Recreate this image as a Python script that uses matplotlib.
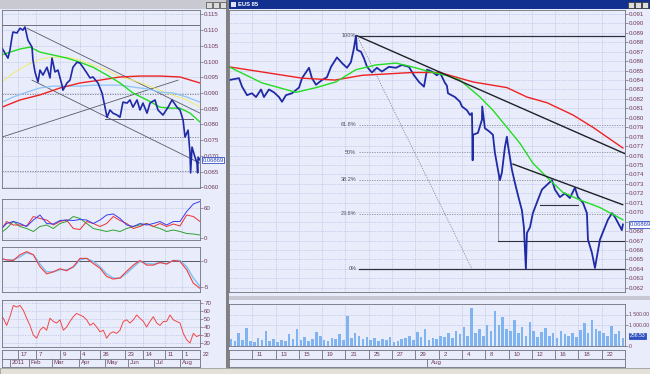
import numpy as np
import matplotlib
matplotlib.use("Agg")
import matplotlib.pyplot as plt
import matplotlib.transforms as mtransforms
from matplotlib.patches import Rectangle
from matplotlib.ticker import FuncFormatter

plt.rcParams['font.family'] = ['Liberation Sans', 'DejaVu Sans']

# ---------------- left window: daily chart (x = trading days from 17 Jan 2011) ----------------
day_idx = [-13.4, -10.9, -8.4, -6.7, -5.0, -4.2, -0.8, 1.7, 4.2, 5.9, 8.4, 11.8, 12.6, 14.3, 16.8,
           18.5, 21.0, 24.4, 26.9, 28.6, 31.1, 33.6, 37.0, 37.8, 41.2, 43.7, 46.2, 49.6, 52.1, 54.6,
           58.0, 60.5, 63.0, 67.2, 70.6, 73.1, 74.8, 77.3, 79.8, 83.2, 85.7, 88.2, 91.6, 94.1, 96.6,
           100.0, 102.5, 105.0, 108.4, 110.9, 115.1, 117.6, 121.8, 126.1, 129.4, 133.6, 136.1, 138.7,
           140.3, 142.9, 144.5, 145.0, 146.2, 148.7, 150.4, 150.9, 151.3, 152.9]
day_close = [0.1043, 0.1027, 0.1011, 0.1037, 0.1078, 0.1094, 0.1091, 0.1106, 0.1100, 0.1110, 0.1068,
             0.1046, 0.1005, 0.0967, 0.0935, 0.0973, 0.0957, 0.0982, 0.0948, 0.1011, 0.0967, 0.0973,
             0.0925, 0.0909, 0.0932, 0.0941, 0.0982, 0.0998, 0.0995, 0.0982, 0.0963, 0.0948, 0.0951,
             0.0932, 0.0900, 0.0855, 0.0823, 0.0846, 0.0836, 0.0830, 0.0823, 0.0871, 0.0868, 0.0878,
             0.0855, 0.0878, 0.0846, 0.0868, 0.0836, 0.0868, 0.0878, 0.0846, 0.0830, 0.0855, 0.0878,
             0.0855, 0.0846, 0.0814, 0.0760, 0.0782, 0.0709, 0.0646, 0.0728, 0.0696, 0.0677, 0.0646,
             0.0696, 0.0687]

ma_green_x = [-13.4, -6.7, 1.7, 10.1, 18.5, 29.4, 41.2, 52.1, 63.0, 74.8, 85.7, 96.6, 108.4, 119.3,
              127.7, 136.1, 144.5, 152.9]
ma_green_y = [0.1021, 0.1030, 0.1040, 0.1046, 0.1030, 0.1021, 0.1011, 0.0998, 0.0982, 0.0957, 0.0932,
              0.0900, 0.0878, 0.0855, 0.0852, 0.0852, 0.0836, 0.0808]
ma_red_x = [-13.4, 1.7, 18.5, 35.3, 52.1, 68.9, 85.7, 102.5, 119.3, 136.1, 152.9]
ma_red_y = [0.0855, 0.0878, 0.0894, 0.0916, 0.0932, 0.0941, 0.0951, 0.0954, 0.0954, 0.0951, 0.0932]
band_x = [-13.4, -4.2, 7.6, 18.5, 29.4, 41.2, 52.1, 63.0, 74.8, 85.7, 96.6, 108.4, 119.3, 130.3, 142.0, 152.9]
band_yellow = [0.0935, 0.0963, 0.0989, 0.1008, 0.1014, 0.1014, 0.1005, 0.0989, 0.0973, 0.0951, 0.0941,
               0.0925, 0.0909, 0.0893, 0.0878, 0.0855]
band_blue = [0.0871, 0.0887, 0.0903, 0.0916, 0.0922, 0.0922, 0.0922, 0.0925, 0.0925, 0.0925, 0.0919,
             0.0913, 0.0903, 0.0900, 0.0887, 0.0871]

# channel / trend lines drawn on the daily chart: (x0, y0, x1, y1)
day_lines = [(7.6, 0.1106, 152.9, 0.0836), (11.8, 0.0941, 152.9, 0.0677), (-13.4, 0.0760, 134.5, 0.0941)]
day_top_line = 0.1116
day_support = (73.1, 147.0, 0.0817)
day_dotted = [0.0897, 0.0760, 0.0652]

# indicators (sampled evenly across the daily axis)
dmi_plus = [16, 29, 33, 29, 23, 36, 46, 29, 28, 35, 36, 35, 37, 36, 29, 36, 46, 48, 39, 26, 23, 29, 26,
            29, 33, 26, 33, 33, 53, 68, 73]
dmi_minus = [13, 33, 26, 26, 24, 43, 39, 36, 26, 33, 36, 19, 17, 33, 29, 23, 29, 43, 35, 29, 19, 23, 29,
             23, 29, 23, 28, 24, 46, 43, 33]
adx = [9, 19, 33, 23, 19, 13, 23, 26, 19, 29, 33, 43, 39, 29, 19, 16, 13, 16, 13, 19, 23, 26, 29, 23, 19,
       13, 16, 13, 9, 8, 6]
macd_line = [0.5, 0.2, 0.1, 1.2, 1.8, 1.2, -1.1, -2.5, -2.1, -1.5, -1.9, -1.1, 0.5, 0.5, -0.5, -1.4, -3.0,
             -3.5, -3.3, -2.0, -0.8, 0.1, -0.8, -0.8, -0.3, -0.6, 0.1, -0.1, -1.7, -4.3, -5.3]
macd_signal = [0.5, 0.2, 0.2, 0.8, 1.6, 1.2, -0.6, -2.1, -2.1, -1.7, -1.7, -1.2, 0.2, 0.5, -0.1, -1.1, -2.5,
               -3.3, -3.3, -2.4, -1.2, -0.1, -0.5, -0.6, -0.3, -0.5, 0.1, 0.1, -1.1, -3.3, -4.9]
rsi = [55, 51, 42, 53, 67, 65, 67, 61, 51, 42, 30, 26, 36, 40, 36, 51, 47, 45, 49, 36, 40, 47, 53, 57, 55,
       53, 49, 42, 45, 40, 34, 36, 26, 32, 34, 32, 36, 47, 49, 45, 49, 55, 51, 47, 40, 47, 53, 45, 42, 47,
       47, 55, 49, 47, 45, 32, 24, 20, 32, 28, 30]

day_ticks = [0, 15, 35.3, 52.1, 68.9, 90, 105, 123.5, 137.8, 152.9]
day_tick_labels = ['17', '7', '9', '4', '26', '23', '14', '11', '1', '22']
month_starts = [-6.7, 9.2, 28.6, 51.3, 73.0, 92.4, 114.3, 136.1]
month_labels = ['2011', 'Feb', 'Mar', 'Apr', 'May', 'Jun', 'Jul', 'Aug']
left_yticks = [0.060, 0.065, 0.070, 0.075, 0.080, 0.085, 0.090, 0.095, 0.100, 0.105, 0.110, 0.115]

# ---------------- right window: hourly chart (x = trading days from 7 Jul 2011) ----------------
hour_day = [0, 0.86, 1.12, 1.55, 1.97, 2.32, 2.75, 3.00, 3.43, 3.86, 4.29, 4.55, 4.89, 5.41, 6.01, 6.27,
            6.87, 7.12, 7.47, 7.98, 8.41, 8.76, 9.27, 9.70, 10.13, 10.47, 10.73, 10.90, 10.99, 11.33,
            11.59, 11.85, 12.27, 12.70, 13.13, 13.73, 14.33, 14.85, 15.45, 15.88, 16.31, 16.74, 17.00,
            17.42, 17.85, 18.11, 18.54, 18.71, 18.80, 19.40, 19.83, 20.00, 20.43, 20.69, 20.86, 20.90,
            20.92, 20.94, 21.37, 21.72, 21.74, 21.97, 22.40, 22.66, 22.83, 23.09, 23.26, 23.43, 23.69,
            23.86, 23.95, 24.29, 24.55, 24.81, 25.15, 25.32, 25.49, 25.58, 25.84, 26.09, 26.52, 26.87,
            27.30, 27.73, 27.98, 28.41, 28.84, 29.27, 29.70, 29.96, 30.39, 30.73, 30.82, 31.16, 31.42,
            31.59, 31.85, 32.27, 32.53, 32.88, 33.13, 33.39, 33.73, 33.82]
hour_close = [0.0840, 0.0842, 0.0833, 0.0824, 0.0826, 0.0822, 0.0830, 0.0822, 0.0830, 0.0827, 0.0822,
              0.0817, 0.0824, 0.0826, 0.0832, 0.0842, 0.0853, 0.0842, 0.0835, 0.0840, 0.0843, 0.0854,
              0.0864, 0.0858, 0.0853, 0.0859, 0.0874, 0.0887, 0.0872, 0.0870, 0.0863, 0.0854, 0.0848,
              0.0853, 0.0849, 0.0854, 0.0853, 0.0856, 0.0854, 0.0845, 0.0838, 0.0833, 0.0851, 0.0849,
              0.0845, 0.0848, 0.0837, 0.0834, 0.0826, 0.0822, 0.0817, 0.0812, 0.0808, 0.0803, 0.0805,
              0.0777, 0.0755, 0.0782, 0.0784, 0.0798, 0.0812, 0.0789, 0.0785, 0.0782, 0.0763, 0.0745,
              0.0734, 0.0742, 0.0769, 0.0780, 0.0771, 0.0745, 0.0731, 0.0718, 0.0702, 0.0684, 0.0640,
              0.0678, 0.0684, 0.0699, 0.0713, 0.0724, 0.0729, 0.0734, 0.0724, 0.0716, 0.0720, 0.0715,
              0.0726, 0.0716, 0.0710, 0.0699, 0.0671, 0.0657, 0.0641, 0.0653, 0.0671, 0.0684, 0.0692,
              0.0699, 0.0695, 0.0689, 0.0681, 0.0687]

ma_fast_x = [0, 2.83, 5.75, 7.47, 9.18, 10.90, 12.62, 14.33, 15.71, 17.17, 18.63, 19.83, 21.55, 22.66,
             23.86, 24.98, 26.09, 27.30, 28.67, 30.13, 31.85, 33.82]
ma_fast_y = [0.0854, 0.0837, 0.0827, 0.0832, 0.0838, 0.0851, 0.0856, 0.0858, 0.0854, 0.0849, 0.0845,
             0.0840, 0.0822, 0.0808, 0.0790, 0.0773, 0.0752, 0.0737, 0.0721, 0.0713, 0.0705, 0.0692]
ma_slow_x = [0, 6.27, 9.10, 11.42, 15.71, 18.11, 20.94, 23.86, 25.58, 27.30, 29.53, 31.24, 33.82]
ma_slow_y = [0.0854, 0.0842, 0.0840, 0.0845, 0.0848, 0.0848, 0.0838, 0.0832, 0.0822, 0.0816, 0.0803,
             0.0790, 0.0768]

fib_pcts = [100, 61.8, 50, 38.2, 23.6, 0]
fib_low, fib_high = 0.0640, 0.0887
fib_start = 10.99
hour_trends = [(10.99, 0.0887, 34.0, 0.0762), (24.38, 0.0751, 33.8, 0.0708)]
fib_diag = (10.99, 0.0887, 20.86, 0.0640)
support_067 = (23.09, 34.0, 0.0670)
support_071 = (26.7, 29.96, 0.0708)

# volume, three readings per trading day
volume = [350, 250, 600, 300, 850, 250, 200, 400, 300, 700, 250, 350, 200, 300, 250, 550, 350, 800,
          300, 450, 250, 350, 650, 500, 300, 250, 400, 350, 550, 300, 1450, 400, 600, 500, 350, 450,
          300, 400, 250, 350, 300, 450, 200, 250, 350, 400, 500, 300, 650, 450, 800, 300, 400, 350,
          500, 450, 600, 400, 700, 550, 900, 500, 1800, 600, 800, 500, 1000, 700, 1650, 1000, 1400, 800,
          700, 1250, 600, 900, 500, 1150, 700, 450, 650, 850, 500, 600, 400, 700, 550, 500, 600, 450,
          750, 1100, 600, 1250, 800, 700, 600, 500, 950, 550, 700, 400]

hour_ticks = [2, 4, 6, 8, 10, 12, 14, 16, 18, 20, 22, 24, 26, 28, 30, 32]
hour_tick_labels = ['11', '13', '15', '19', '21', '25', '27', '29', '2', '4', '8', '10', '12', '16', '18', '22']
hour_month_starts = [17.0]
hour_month_labels = ['Aug']
right_yticks = [round(0.062 + 0.001 * k, 3) for k in range(30)]

# ---------------- drawing ----------------
W, H = 650, 374
BG = '#e9ecfa'
GRID = '#aab3dc'
TXT = '#6e3a58'
FRAME = '#70707e'

fig = plt.figure(figsize=(6.5, 3.74), dpi=100)
fig.patch.set_facecolor('#d4d0c8')


def rect(x0, y0, x1, y1):
    return [x0 / W, 1 - y1 / H, (x1 - x0) / W, (y1 - y0) / H]


def block(x0, y0, x1, y1, color, edge='none', z=-5):
    fig.add_artist(Rectangle((x0 / W, 1 - y1 / H), (x1 - x0) / W, (y1 - y0) / H,
                             transform=fig.transFigure, facecolor=color, edgecolor=edge,
                             linewidth=0.6, zorder=z))


# window chrome
block(0, 9, 226, 368, BG)
block(229, 9, 650, 368, BG)
block(226, 0, 229, 374, '#808080')
block(0, 0, 226, 9, '#c9c9d2')
block(229, 0, 650, 9, '#12308f')
block(0, 368, 650, 374, '#e4e1da', edge='#a0a0a0')
for bx in (206, 213, 220):
    block(bx, 2, bx + 6, 8, '#dcdcdc', edge='#606060', z=-4)
for bx in (628, 635, 642):
    block(bx, 2, bx + 6, 8, '#dcdcdc', edge='#404040', z=-4)
block(231, 2, 236, 7, '#e0e0ff', z=-4)
fig.text(238 / W, 1 - 4.8 / H, 'EUS 85', color='white', fontsize=4.2, va='center', weight='bold')
block(229, 296, 650, 300, '#c8c8d4', z=-4)


def style(ax, yticks, fmt, xticks, xlim, ylim, labelsize=4.4):
    ax.set_facecolor(BG)
    ax.set_xlim(*xlim)
    ax.set_ylim(*ylim)
    ax.set_xticks(xticks)
    ax.set_yticks(yticks)
    ax.yaxis.set_major_formatter(FuncFormatter(fmt))
    ax.tick_params(axis='x', length=0, labelbottom=False)
    ax.tick_params(axis='y', left=False, labelleft=False, right=True, labelright=True,
                   length=2, width=0.5, pad=1, labelsize=labelsize, colors=FRAME, labelcolor=TXT)
    ax.grid(True, color=GRID, lw=0.5, ls=(0, (1, 1.5)))
    ax.set_axisbelow(True)
    for s in ax.spines.values():
        s.set_color(FRAME)
        s.set_linewidth(0.6)


def last_box(ax, y, text, fill, fg, size=4.2):
    tr = mtransforms.blended_transform_factory(ax.transAxes, ax.transData)
    ax.text(1.012, y, text, transform=tr, fontsize=size, color=fg, va='center', ha='left',
            bbox=dict(boxstyle='square,pad=0.15', fc=fill, ec='#3050c0', lw=0.6), clip_on=False)


left_xlim = (-13.4, 152.9)
f3 = lambda v, _: f'{v:.3f}'

# daily price panel
axL = fig.add_axes(rect(2, 10, 200, 188))
style(axL, left_yticks, f3, day_ticks, left_xlim, (0.0598, 0.1164))
axL.axhline(day_top_line, color='#5a5a6a', lw=0.6)
for lvl in day_dotted:
    axL.axhline(lvl, color='#7a7a8a', lw=0.6, ls=(0, (1.5, 1.5)))
for x0, y0, x1, y1 in day_lines:
    axL.plot([x0, x1], [y0, y1], color='#5a5a6a', lw=0.6)
axL.plot(day_support[:2], [day_support[2]] * 2, color='#5a5a6a', lw=0.7)
axL.plot(band_x, band_yellow, color='#f0ec6c', lw=0.7)
axL.plot(band_x, band_blue, color='#8cc4f4', lw=0.9)
axL.plot(ma_red_x, ma_red_y, color='#ee2222', lw=1.0)
axL.plot(ma_green_x, ma_green_y, color='#22dd22', lw=1.0)
axL.plot(day_idx, day_close, color='#1f2aa6', lw=1.2)
last_box(axL, day_close[-1], '0.06869', 'white', '#2040c0')

# DMI panel
ind_x = np.linspace(-15.1, 152.9, len(dmi_plus))
axL1 = fig.add_axes(rect(2, 199, 200, 240))
style(axL1, [0, 60], lambda v, _: f'{v:.0f}', day_ticks, left_xlim, (-4, 78))
axL1.plot(ind_x, adx, color='#30a030', lw=0.7)
axL1.plot(ind_x, dmi_minus, color='#ee3030', lw=0.7)
axL1.plot(ind_x, dmi_plus, color='#3a3af0', lw=0.7)

# MACD panel
axL2 = fig.add_axes(rect(2, 247, 200, 292))
style(axL2, [-5, 0], lambda v, _: f'{v:.0f}', day_ticks, left_xlim, (-6.0, 2.7))
axL2.axhline(0, color='#404050', lw=0.6)
axL2.plot(ind_x, macd_signal, color='#7cc0f8', lw=1.0)
axL2.plot(ind_x, macd_line, color='#f04040', lw=0.8)

# RSI panel
rsi_x = np.linspace(-15.1, 152.9, len(rsi))
axL3 = fig.add_axes(rect(2, 300, 200, 347))
style(axL3, [20, 30, 40, 50, 60, 70], lambda v, _: f'{v:.0f}', day_ticks, left_xlim, (15, 73.8))
axL3.plot(rsi_x, rsi, color='#f04848', lw=0.7)


def date_strip(rc, xlim, ticks, labels, mstarts, mlabels):
    ax = fig.add_axes(rc)
    ax.set_facecolor(BG)
    ax.set_xlim(*xlim)
    ax.set_ylim(0, 2)
    ax.set_xticks([])
    ax.set_yticks([])
    for s in ax.spines.values():
        s.set_color(FRAME)
        s.set_linewidth(0.6)
    ax.axhline(1, color=FRAME, lw=0.6)
    span = xlim[1] - xlim[0]
    for t, lab in zip(ticks, labels):
        ax.plot([t, t], [1, 2], color=FRAME, lw=0.6)
        ax.text(t + span * 0.012, 1.5, lab, fontsize=4.4, color=TXT, va='center', ha='left', clip_on=False)
    for t, lab in zip(mstarts, mlabels):
        ax.plot([t, t], [0, 1], color=FRAME, lw=0.6)
        ax.text(t + span * 0.01, 0.5, lab, fontsize=4.4, color=TXT, va='center', ha='left', clip_on=False)
    return ax


date_strip(rect(2, 350, 200, 367), left_xlim, day_ticks, day_tick_labels, month_starts, month_labels)

# hourly price panel (label under the last-value box is left blank, as in the platform)
right_xlim = (0, 34.0)
axR = fig.add_axes(rect(229, 10, 625, 292))
style(axR, right_yticks, lambda v, _: '' if abs(v - 0.069) < 1e-6 else f'{v:.3f}',
      hour_ticks, right_xlim, (0.06155, 0.09142))
rng = fib_high - fib_low
for p in fib_pcts:
    lvl = fib_low + rng * p / 100
    if p in (0, 100):
        axR.plot([fib_start + 0.2, 34.0], [lvl, lvl], color='#303040', lw=0.9)
    else:
        axR.plot([fib_start + 0.2, 34.0], [lvl, lvl], color='#8a8a9a', lw=0.6, ls=(0, (1.5, 1.5)))
    axR.text(fib_start - 0.05, lvl, f'{p:g}%', fontsize=4.0, color='#505060', ha='right', va='center')
axR.plot(fib_diag[::2], fib_diag[1::2], color='#8a8a9a', lw=0.6, ls=(0, (1.5, 1.5)))
axR.plot([support_067[0], support_067[0]], [support_067[2], 0.0745], color='#7a7a8a', lw=0.5)
axR.plot(support_067[:2], [support_067[2]] * 2, color='#303040', lw=0.8)
axR.plot(support_071[:2], [support_071[2]] * 2, color='#303040', lw=0.8)
axR.plot(hour_day, hour_close, color='#1f2aa6', lw=1.3)
axR.plot(ma_slow_x, ma_slow_y, color='#ee2222', lw=1.0)
axR.plot(ma_fast_x, ma_fast_y, color='#22dd22', lw=1.0)
for x0, y0, x1, y1 in hour_trends:
    axR.plot([x0, x1], [y0, y1], color='#202028', lw=1.0)
last_box(axR, hour_close[-1], '0.06869', 'white', '#2040c0')

# volume panel
vol_x = (np.arange(len(volume)) + 0.5) / 3
axV = fig.add_axes(rect(229, 304, 625, 346))
style(axV, [0, 1000, 1500], lambda v, _: '0' if v == 0 else f'{v:,.2f}'.replace(',', ' '),
      hour_ticks, right_xlim, (0, 2000), labelsize=3.7)
axV.bar(vol_x, volume, width=0.22, color='#80b4f0', edgecolor='none')
last_box(axV, 480, '256.53', '#3050c0', 'white', size=3.7)

date_strip(rect(229, 350, 625, 367), right_xlim, hour_ticks, hour_tick_labels,
           hour_month_starts, hour_month_labels)

fig.savefig('out.png', dpi=100, facecolor=fig.get_facecolor())
